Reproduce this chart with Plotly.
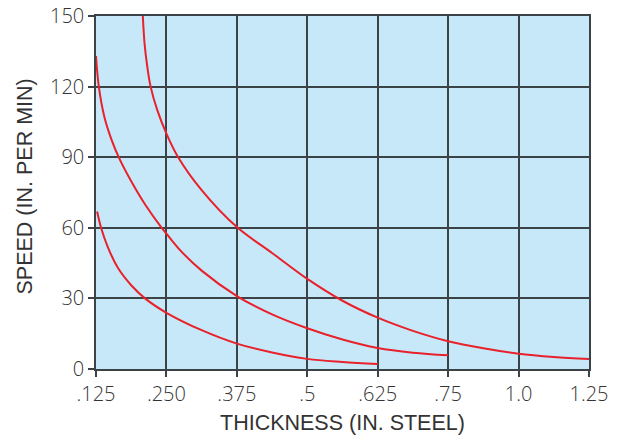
import numpy as np
import plotly.graph_objects as go

# Thickness ticks (in. steel) – evenly spaced on the axis
tick_thickness = [0.125, 0.25, 0.375, 0.5, 0.625, 0.75, 1.0, 1.25]
tick_labels = [".125", ".250", ".375", ".5", ".625", ".75", "1.0", "1.25"]
tick_pos = list(range(len(tick_thickness)))

# Cutting speed curves (thickness in., speed in./min)
thin_t = [0.127, 0.134, 0.146, 0.1638, 0.1875, 0.2125, 0.25, 0.3125,
          0.375, 0.4375, 0.5, 0.5625, 0.625]
thin_v = [66.9, 60, 51.8, 43.0, 35.6, 29.9, 23.9, 16.5, 10.8, 7.0, 4.3,
          3.0, 2.1]

mid_t = [0.125, 0.13, 0.14, 0.1525, 0.1663, 0.1875, 0.2125, 0.2406, 0.25,
         0.275, 0.3125, 0.375, 0.4375, 0.5, 0.5625, 0.625, 0.6875, 0.75]
mid_v = [133, 120, 107, 97.5, 89.5, 79.8, 69.8, 60.3, 57.5, 50.3, 41.8, 31,
         23.2, 17.3, 12.5, 8.9, 6.9, 5.8]

thick_t = [0.2081, 0.2113, 0.2163, 0.2219, 0.2338, 0.25, 0.27, 0.3125,
           0.375, 0.4375, 0.5, 0.5625, 0.625, 0.6875, 0.75, 0.875, 1.0,
           1.125, 1.25]
thick_v = [150, 138, 128, 120, 110, 100, 90.3, 76, 60.3, 49.3, 38.3,
           29, 21.8, 16.2, 11.8, 8.8, 6.5, 5.1, 4.2]

speed_ticks = [0, 30, 60, 90, 120, 150]


def to_axis(t):
    # piecewise-linear thickness scale used by the x axis
    return np.interp(t, tick_thickness, tick_pos)


fig = go.Figure()
for t, v in [(thin_t, thin_v), (mid_t, mid_v), (thick_t, thick_v)]:
    fig.add_trace(go.Scatter(
        x=to_axis(t), y=v, mode="lines",
        line=dict(color="#E8212B", width=2, shape="spline", smoothing=1),
        hoverinfo="skip", showlegend=False,
    ))

tick_family = "'Open Sans', sans-serif"
title_family = "'Liberation Sans', Arial, sans-serif"
text_col = "#333333"
grid_col = "#3C4347"

axis_common = dict(
    showgrid=True, gridcolor=grid_col, gridwidth=1.5,
    showline=True, linecolor=grid_col, linewidth=1.5, mirror=True,
    ticks="outside", ticklen=6, tickcolor=grid_col, tickwidth=1.5,
    zeroline=False, automargin=False,
    tickfont=dict(family=tick_family, size=20, color=text_col, weight=300),
)
title_font = dict(family=title_family, size=21.5, color=text_col)

fig.update_layout(
    width=618, height=438,
    margin=dict(l=96, r=29, t=16, b=69),
    paper_bgcolor="white",
    plot_bgcolor="#C7E8F8",
    font=dict(family=tick_family, size=20, color=text_col),
    xaxis=dict(range=[0, 7], tickvals=tick_pos, ticktext=tick_labels,
               **axis_common),
    yaxis=dict(range=[0, 150], tickvals=speed_ticks, **axis_common),
    annotations=[
        dict(text="THICKNESS (IN. STEEL)", xref="paper", yref="paper",
             x=0.5, y=0, yshift=-54, xanchor="center", yanchor="middle",
             showarrow=False, font=title_font),
        dict(text="SPEED (IN. PER MIN)", xref="paper", yref="paper",
             x=0, y=0.5, xshift=-72, yshift=6, xanchor="center",
             yanchor="middle", textangle=-90, showarrow=False,
             font=title_font),
    ],
)

fig.write_html("out.html")
